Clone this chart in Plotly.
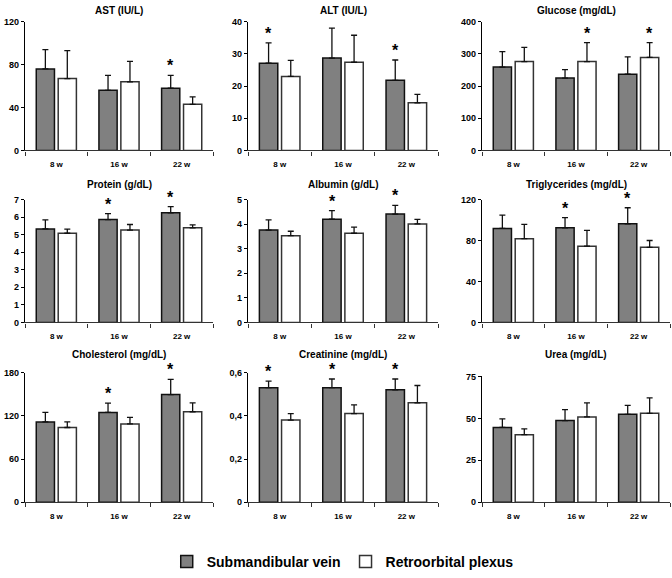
import plotly.graph_objects as go

weeks = ["8 w", "16 w", "22 w"]

# mean and upper SD, Submandibular vein (sub) vs Retroorbital plexus (ret)
ast_sub = [76, 56, 58]
ast_sub_sd = [18, 14, 12]
ast_ret = [67, 64, 43]
ast_ret_sd = [26, 19, 7]

alt_sub = [27.1, 28.7, 21.8]
alt_sub_sd = [6.3, 9.3, 6.3]
alt_ret = [23.0, 27.4, 14.8]
alt_ret_sd = [5.0, 8.4, 2.6]

glu_sub = [259, 225, 237]
glu_sub_sd = [48, 26, 54]
glu_ret = [276, 276, 289]
glu_ret_sd = [44, 59, 46]

prot_sub = [5.33, 5.86, 6.25]
prot_sub_sd = [0.51, 0.34, 0.35]
prot_ret = [5.08, 5.26, 5.39]
prot_ret_sd = [0.24, 0.32, 0.17]

alb_sub = [3.76, 4.20, 4.41]
alb_sub_sd = [0.41, 0.35, 0.35]
alb_ret = [3.53, 3.63, 4.01]
alb_ret_sd = [0.18, 0.25, 0.18]

tg_sub = [91.8, 92.4, 96.4]
tg_sub_sd = [13.1, 10.0, 15.6]
tg_ret = [81.8, 74.5, 73.3]
tg_ret_sd = [13.9, 15.5, 6.7]

chol_sub = [111.5, 124.7, 149.4]
chol_sub_sd = [13.2, 12.8, 21.0]
chol_ret = [103.7, 108.7, 125.6]
chol_ret_sd = [7.8, 9.2, 12.4]

crea_sub = [0.53, 0.53, 0.52]
crea_sub_sd = [0.03, 0.04, 0.05]
crea_ret = [0.38, 0.41, 0.46]
crea_ret_sd = [0.03, 0.04, 0.08]

urea_sub = [44.6, 48.7, 52.4]
urea_sub_sd = [5.1, 6.5, 5.3]
urea_ret = [40.3, 50.9, 53.0]
urea_ret_sd = [3.5, 8.4, 9.2]

# significance stars (1 = star above bar)
ast_star_sub, ast_star_ret = [0, 0, 1], [0, 0, 0]
alt_star_sub, alt_star_ret = [1, 0, 1], [0, 0, 0]
glu_star_sub, glu_star_ret = [0, 0, 0], [0, 1, 1]
prot_star_sub, prot_star_ret = [0, 1, 1], [0, 0, 0]
alb_star_sub, alb_star_ret = [0, 1, 1], [0, 0, 0]
tg_star_sub, tg_star_ret = [0, 1, 1], [0, 0, 0]
chol_star_sub, chol_star_ret = [0, 1, 1], [0, 0, 0]
crea_star_sub, crea_star_ret = [1, 1, 1], [0, 0, 0]
urea_star_sub, urea_star_ret = [0, 0, 0], [0, 0, 0]

titles = ["AST (IU/L)", "ALT (IU/L)", "Glucose (mg/dL)",
          "Protein (g/dL)", "Albumin (g/dL)", "Triglycerides (mg/dL)",
          "Cholesterol (mg/dL)", "Creatinine (mg/dL)", "Urea (mg/dL)"]
y_max = [120, 40, 400, 7, 5, 120, 180, 0.6, 75]
y_step = [40, 10, 100, 1, 1, 40, 60, 0.2, 25]

panels = [
    (ast_sub, ast_sub_sd, ast_ret, ast_ret_sd, ast_star_sub, ast_star_ret),
    (alt_sub, alt_sub_sd, alt_ret, alt_ret_sd, alt_star_sub, alt_star_ret),
    (glu_sub, glu_sub_sd, glu_ret, glu_ret_sd, glu_star_sub, glu_star_ret),
    (prot_sub, prot_sub_sd, prot_ret, prot_ret_sd, prot_star_sub, prot_star_ret),
    (alb_sub, alb_sub_sd, alb_ret, alb_ret_sd, alb_star_sub, alb_star_ret),
    (tg_sub, tg_sub_sd, tg_ret, tg_ret_sd, tg_star_sub, tg_star_ret),
    (chol_sub, chol_sub_sd, chol_ret, chol_ret_sd, chol_star_sub, chol_star_ret),
    (crea_sub, crea_sub_sd, crea_ret, crea_ret_sd, crea_star_sub, crea_star_ret),
    (urea_sub, urea_sub_sd, urea_ret, urea_ret_sd, urea_star_sub, urea_star_ret),
]

W, H = 672, 578
col_px = [(25, 213), (248, 438), (482, 670)]
row_px = [(17, 148), (198, 323), (374, 506)]
title_px = [6, 183, 356]
FONT = "Liberation Sans, Arial, sans-serif"

fig = go.Figure()
annotations = []

for i, (sub, sub_sd, ret, ret_sd, st_sub, st_ret) in enumerate(panels):
    r, c = divmod(i, 3)
    n = "" if i == 0 else str(i + 1)
    top = row_px[r][0] + (4 if i == 8 else 0)
    bot = row_px[r][1]
    fig.add_bar(x=weeks, y=sub, name="Submandibular vein", showlegend=(i == 0),
                legendgroup="sub", xaxis="x" + n, yaxis="y" + n,
                marker=dict(color="#808080", line=dict(color="#111111", width=1.5)),
                error_y=dict(type="data", symmetric=False, array=sub_sd,
                             arrayminus=[0] * 3, color="#111111", thickness=1.3, width=3))
    fig.add_bar(x=weeks, y=ret, name="Retroorbital plexus", showlegend=(i == 0),
                legendgroup="ret", xaxis="x" + n, yaxis="y" + n,
                marker=dict(color="white", line=dict(color="#333333", width=1.5)),
                error_y=dict(type="data", symmetric=False, array=ret_sd,
                             arrayminus=[0] * 3, color="#111111", thickness=1.3, width=3))
    fig.layout["xaxis" + n] = dict(
        domain=[col_px[c][0] / W, col_px[c][1] / W], anchor="y" + n,
        type="category", tickson="boundaries", ticks="outside", ticklen=4,
        ticklabelstandoff=6,
        showline=True, linecolor="#333333", linewidth=1.2, tickcolor="#333333",
        tickfont=dict(size=8, family=FONT, color="black", weight="bold"),
        showgrid=False, zeroline=False, fixedrange=True)
    fig.layout["yaxis" + n] = dict(
        domain=[1 - bot / H, 1 - top / H], anchor="x" + n,
        range=[0, y_max[i]], dtick=y_step[i], tick0=0,
        ticks="outside", ticklen=3, showline=True, linecolor="black",
        linewidth=1.2, tickcolor="black", showgrid=False, zeroline=False,
        tickfont=dict(size=9, family=FONT, color="black", weight="bold"))
    annotations.append(dict(
        text=titles[i], xref="paper", yref="paper",
        x=(col_px[c][0] + col_px[c][1]) / 2 / W, y=1 - title_px[r] / H,
        xanchor="center", yanchor="middle", showarrow=False,
        font=dict(size=10, family=FONT, color="black", weight="bold")))
    for k in range(3):
        for flag, vals, sds, shift in ((st_sub[k], sub, sub_sd, -11), (st_ret[k], ret, ret_sd, 11)):
            if flag:
                annotations.append(dict(
                    text="*", x=weeks[k], y=vals[k] + sds[k],
                    xref="x" + n, yref="y" + n, xshift=shift, yshift=-1,
                    xanchor="center", yanchor="bottom", showarrow=False,
                    font=dict(size=16, family=FONT, color="black", weight="bold")))

fig.update_layout(
    width=W, height=H, margin=dict(l=0, r=0, t=0, b=0),
    paper_bgcolor="white", plot_bgcolor="white",
    barmode="group", bargap=0.3, bargroupgap=0.17,
    separators=",.",
    annotations=annotations,
    legend=dict(orientation="h", x=0.51, xanchor="center", y=1 - 567 / H, yanchor="middle",
                font=dict(size=14, family=FONT, color="black", weight="bold"),
                itemwidth=30, traceorder="normal"),
)

fig.write_html("out.html", config={"displayModeBar": False},
               post_script="document.body.style.margin='0';")
